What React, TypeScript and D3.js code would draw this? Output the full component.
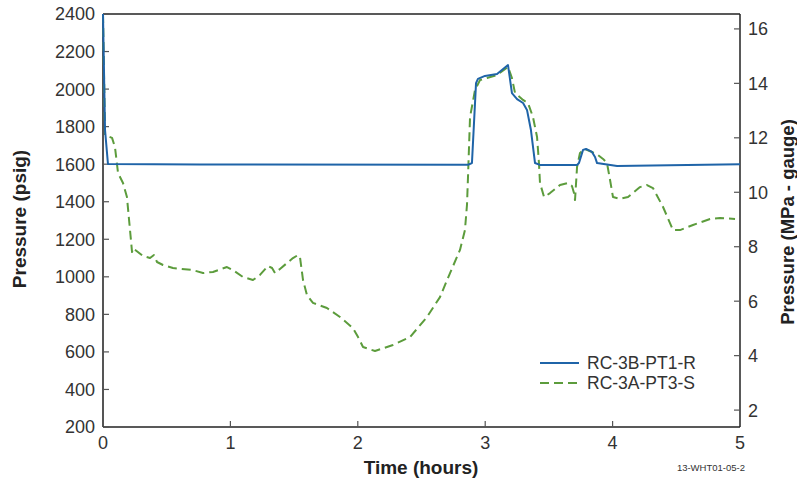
import React from "react";
import * as d3 from "d3";

const blueT = [0, 0.016, 0.039, 0.761, 2.865, 2.896, 2.928, 2.943, 2.998, 3.093, 3.179, 3.21, 3.25, 3.297, 3.328, 3.359, 3.391, 3.43, 3.721, 3.736, 3.768, 3.791, 3.838, 3.862, 3.878, 4.035, 5.0];
const blueP = [2400, 1782, 1601, 1598, 1597, 1606, 2032, 2054, 2070, 2080, 2128, 1979, 1947, 1926, 1889, 1782, 1606, 1596, 1596, 1606, 1676, 1681, 1665, 1638, 1606, 1590, 1600];

const greenT = [0, 0.016, 0.071, 0.094, 0.118, 0.157, 0.188, 0.212, 0.228, 0.235, 0.314, 0.369, 0.4, 0.424, 0.471, 0.549, 0.706, 0.785, 0.863, 0.973, 1.02, 1.099, 1.177, 1.232, 1.295, 1.327, 1.35, 1.389, 1.491, 1.531, 1.546, 1.57, 1.601, 1.648, 1.758, 1.86, 1.962, 2.002, 2.041, 2.135, 2.276, 2.41, 2.543, 2.645, 2.724, 2.802, 2.841, 2.857, 2.865, 2.881, 2.92, 2.959, 3.014, 3.093, 3.179, 3.21, 3.234, 3.297, 3.336, 3.375, 3.407, 3.422, 3.43, 3.462, 3.509, 3.587, 3.65, 3.681, 3.697, 3.705, 3.721, 3.744, 3.783, 3.838, 3.885, 3.925, 3.956, 3.98, 4.003, 4.058, 4.121, 4.215, 4.27, 4.317, 4.396, 4.474, 4.529, 4.631, 4.765, 4.843, 4.961];
const greenP = [2400, 1755, 1740, 1691, 1553, 1500, 1425, 1249, 1132, 1153, 1111, 1100, 1116, 1079, 1063, 1047, 1036, 1020, 1026, 1052, 1036, 999, 983, 1010, 1058, 1047, 1020, 1042, 1100, 1116, 1106, 983, 903, 861, 834, 786, 727, 679, 626, 605, 637, 679, 786, 892, 1020, 1143, 1249, 1383, 1532, 1851, 1995, 2048, 2059, 2075, 2118, 2059, 1979, 1942, 1926, 1851, 1745, 1606, 1500, 1425, 1446, 1489, 1500, 1484, 1446, 1409, 1585, 1660, 1681, 1665, 1649, 1628, 1606, 1516, 1425, 1415, 1425, 1478, 1489, 1473, 1372, 1249, 1249, 1276, 1308, 1313, 1308];

const xTicks = [0, 1, 2, 3, 4, 5];
const yTicks = [200, 400, 600, 800, 1000, 1200, 1400, 1600, 1800, 2000, 2200, 2400];
const mpaTicks = [2, 4, 6, 8, 10, 12, 14, 16];
const PSI_PER_MPA = 145.038;
const seriesNames = ["RC-3B-PT1-R", "RC-3A-PT3-S"];

const BLUE = "#1f64a8";
const GREEN = "#5c9c3c";
const AXIS = "#333333";
const FONT = "Liberation Sans, Arial, sans-serif";

export default function App() {
  const W = 797, H = 478;
  const L = 103, R = 740, T = 14, B = 427;
  const x = d3.scaleLinear().domain([0, 5]).range([L, R]);
  const y = d3.scaleLinear().domain([200, 2400]).range([B, T]);
  const yR = d3.scaleLinear().domain([200 / PSI_PER_MPA, 2400 / PSI_PER_MPA]).range([B, T]);

  const line = d3.line<[number, number]>().x(d => x(d[0])).y(d => y(d[1]));
  const blue = line(blueT.map((t, i) => [t, blueP[i]] as [number, number])) || "";
  const green = line(greenT.map((t, i) => [t, greenP[i]] as [number, number])) || "";

  return (
    <svg width={W} height={H} style={{ position: "absolute", left: 0, top: 0, background: "#fff" }} fontFamily={FONT}>
      <rect x={0} y={0} width={W} height={H} fill="#fff" />
      {/* frame */}
      <line x1={L} x2={R} y1={T} y2={T} stroke="#222" strokeWidth={1.5} />
      <line x1={R} x2={R} y1={T} y2={B} stroke="#222" strokeWidth={1.5} />
      <line x1={L} x2={L} y1={T} y2={B} stroke="#555" strokeWidth={2} />
      <line x1={L} x2={R} y1={B} y2={B} stroke="#222" strokeWidth={1.5} />

      {/* left ticks */}
      {yTicks.map(v => (
        <g key={"y" + v}>
          <line x1={L} x2={L + 6} y1={y(v)} y2={y(v)} stroke="#555" strokeWidth={1.2} />
          <text x={L - 8} y={y(v)} dy="0.36em" textAnchor="end" fontSize={18} fill={AXIS}>{v}</text>
        </g>
      ))}
      {/* right ticks */}
      {mpaTicks.map(v => (
        <g key={"r" + v}>
          <line x1={R - 6} x2={R} y1={yR(v)} y2={yR(v)} stroke="#555" strokeWidth={1.2} />
          <text x={R + 8} y={yR(v)} dy="0.36em" textAnchor="start" fontSize={18} fill={AXIS}>{v}</text>
        </g>
      ))}
      {/* bottom ticks */}
      {xTicks.map(v => (
        <g key={"x" + v}>
          {v > 0 && v < 5 && <line x1={x(v)} x2={x(v)} y1={B} y2={B - 6} stroke="#555" strokeWidth={1.2} />}
          <text x={x(v)} y={B + 16} dy="0.36em" textAnchor="middle" fontSize={18} fill={AXIS}>{v}</text>
        </g>
      ))}

      {/* series */}
      <path d={green} fill="none" stroke={GREEN} strokeWidth={2} strokeDasharray="9 5" strokeLinejoin="round" />
      <path d={blue} fill="none" stroke={BLUE} strokeWidth={2} strokeLinejoin="round" />

      {/* axis titles */}
      <text x={421} y={467} dy="0.36em" textAnchor="middle" fontSize={19} fontWeight="bold" fill="#222">Time (hours)</text>
      <text transform={`translate(19,219) rotate(-90)`} dy="0.36em" textAnchor="middle" fontSize={19} fontWeight="bold" fill="#222">Pressure (psig)</text>
      <text transform={`translate(787,222) rotate(-90)`} dy="0.36em" textAnchor="middle" fontSize={18.5} fontWeight="bold" fill="#222">Pressure (MPa - gauge)</text>

      {/* legend */}
      <line x1={540} x2={579} y1={363} y2={363} stroke={BLUE} strokeWidth={2} />
      <text x={587} y={363} dy="0.36em" fontSize={17.5} fill={AXIS}>{seriesNames[0]}</text>
      <line x1={540} x2={579} y1={383} y2={383} stroke={GREEN} strokeWidth={2} strokeDasharray="9 5" />
      <text x={587} y={383} dy="0.36em" fontSize={17.5} fill={AXIS}>{seriesNames[1]}</text>

      <text x={745} y={468} dy="0.36em" textAnchor="end" fontSize={9.5} fill={AXIS}>13-WHT01-05-2</text>
    </svg>
  );
}
